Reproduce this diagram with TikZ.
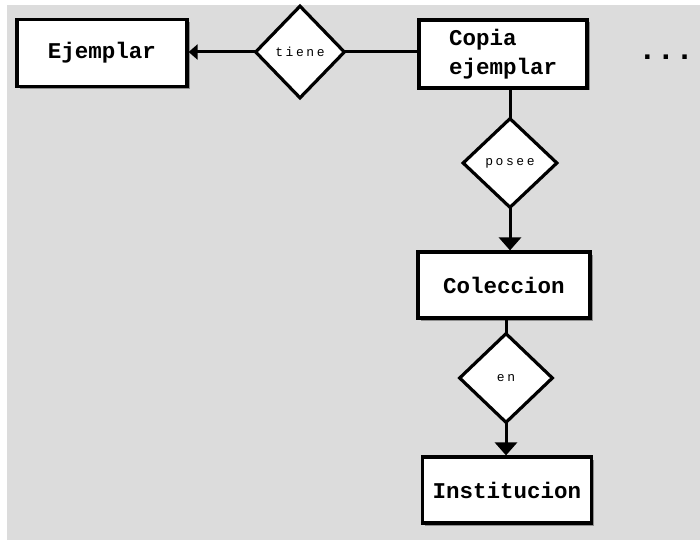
\documentclass[tikz,border=0pt]{standalone}
\usepackage{fontspec}
\setmainfont{Liberation Mono}
\newfontfamily\relfont[LetterSpace=20]{Liberation Mono}
\usetikzlibrary{shapes.geometric,arrows.meta,shadows}
\definecolor{canvas}{HTML}{DCDCDC}
\tikzset{
  entity/.style={draw=black, fill=white, line width=3.2pt, rectangle,
    minimum width=170pt, minimum height=67pt, inner sep=0pt,
    font=\fontsize{22.5}{29}\selectfont\bfseries, align=left,
    drop shadow={shadow xshift=2.5pt, shadow yshift=-2.5pt, fill=black, opacity=0.35}},
  relation/.style={draw=black, fill=white, line width=3.2pt, diamond, aspect=1,
    minimum width=92pt, minimum height=90pt, inner sep=0pt,
    font=\fontsize{13}{15}\selectfont\relfont},
  link/.style={line width=3pt},
  tip/.style={-{Triangle[width=22pt,length=13pt]}, line width=3pt},
  sidetip/.style={-{Triangle[width=15pt,length=9pt]}, line width=3pt}
}
\begin{document}
\begin{tikzpicture}[x=1pt,y=-1pt]
  % canvas
  \useasboundingbox (0,0) rectangle (700,540);
  \fill[canvas] (7,5) rectangle (700,540);

  % entities
  \node[entity] (ej) at (102,53) {Ejemplar};
  \node[entity, minimum width=168pt, minimum height=68pt] (copia) at (503,54) {Copia\\ejemplar};
  \node[entity, minimum width=172pt, minimum height=66pt] (col) at (504,285) {Coleccion};
  \node[entity, minimum width=169pt, minimum height=66pt] (inst) at (507,490) {Institucion};

  % relationships
  \node[relation, minimum width=90pt, minimum height=93pt] (tiene) at (300,52) {tiene};
  \node[relation, minimum width=95pt] (posee) at (510,163) {posee};
  \node[relation, minimum width=94pt] (en) at (506,378) {en};

  % ellipsis
  \node[font=\fontsize{31}{31}\selectfont\bfseries, inner sep=0pt, anchor=base] (more) at (666,60) {...};

  % connectors (started slightly inside the diamond tips so they meet the vertex)
  \draw[sidetip] ([xshift=3pt]tiene.west) -- (tiene.west -| ej.east);
  \draw[link] ([xshift=-3pt]tiene.east) -- (tiene.east -| copia.west);
  \draw[link] ([yshift=-3pt]posee.north) -- (posee.north |- copia.south);
  \draw[tip] ([yshift=3pt]posee.south) -- (posee.south |- col.north);
  \draw[link] ([yshift=-3pt]en.north) -- (en.north |- col.south);
  \draw[tip] ([yshift=3pt]en.south) -- (en.south |- inst.north);
\end{tikzpicture}
\end{document}
